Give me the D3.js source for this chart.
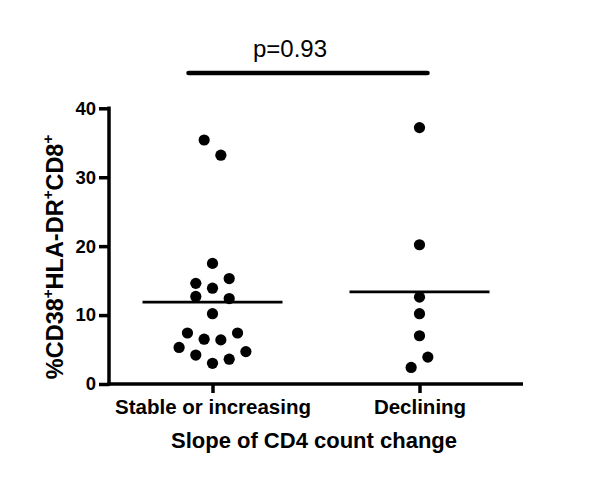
<!DOCTYPE html>
<html>
<head>
<meta charset="utf-8">
<script src="https://cdn.jsdelivr.net/npm/d3@7"></script>
<style>
  body { margin: 0; background: #fff; }
  svg { display: block; font-family: "Liberation Sans", Arial, sans-serif; }
</style>
</head>
<body>
<svg id="chart" width="600" height="486"></svg>
<script>
// ---- data ----
const categories = ["Stable or increasing", "Declining"];
const stableValues = [35.4, 33.2, 17.5, 15.3, 14.6, 13.9, 12.7, 12.4, 10.2, 7.4, 7.4, 6.5, 6.4, 5.3, 4.7, 4.2, 3.6, 3.0];
const stableLanes  = [-1, 1, 0, 2, -2, 0, -2, 2, 0, -3, 3, -1, 1, -4, 4, -2, 2, 0];
const decliningValues = [37.2, 20.2, 12.6, 10.2, 7.0, 3.9, 2.4];
const decliningLanes  = [0, 0, 0, 0, 0, 1, -1];
const yTicks = [0, 10, 20, 30, 40];
const pLabel = "p=0.93";

const groups = [
  { cat: categories[0], values: stableValues, lanes: stableLanes },
  { cat: categories[1], values: decliningValues, lanes: decliningLanes }
];

// ---- layout ----
const svg = d3.select("#chart");
const x = d3.scalePoint().domain(categories).range([109, 523]).padding(0.5);
const y = d3.scaleLinear().domain([0, 40]).range([384, 108.3]);
const lane = d3.scaleLinear().domain([-1, 1]).range([-8.35, 8.35]);

// y axis
const yAxis = svg.append("g").attr("transform", "translate(109,0)")
  .call(d3.axisLeft(y).tickValues(yTicks).tickSize(10).tickSizeOuter(0).tickPadding(3));
yAxis.select(".domain").remove();
yAxis.selectAll(".tick line").attr("stroke", "#000").attr("stroke-width", 3.5);
yAxis.selectAll(".tick text").attr("fill", "#000").attr("font-size", 18.5).attr("font-weight", "bold")
  .attr("font-family", "Liberation Sans, Arial, sans-serif");
svg.append("line").attr("x1", 109).attr("x2", 109).attr("y1", y(40) - 1.75).attr("y2", y(0) + 1.75)
  .attr("stroke", "#000").attr("stroke-width", 3.5);

// x axis
const xAxis = svg.append("g").attr("transform", "translate(0,384)")
  .call(d3.axisBottom(x).tickSize(9).tickSizeOuter(0).tickPadding(6));
xAxis.select(".domain").remove();
xAxis.selectAll(".tick line").attr("stroke", "#000").attr("stroke-width", 3.5);
xAxis.selectAll(".tick text").attr("fill", "#000").attr("font-size", 20.5).attr("font-weight", "bold")
  .attr("font-family", "Liberation Sans, Arial, sans-serif");
svg.append("line").attr("x1", 107.25).attr("x2", 523).attr("y1", 384).attr("y2", 384)
  .attr("stroke", "#000").attr("stroke-width", 3.5);

// x title
svg.append("text").attr("x", 314).attr("y", 448).attr("text-anchor", "middle")
  .attr("font-size", 22).attr("font-weight", "bold").text("Slope of CD4 count change");

// y title with superscripts
const yt = svg.append("text").attr("transform", "translate(63,257) rotate(-90)")
  .attr("text-anchor", "middle").attr("font-size", 23.5).attr("font-weight", "bold");
const parts = [["%CD38", false], ["+", true], ["HLA-DR", false], ["+", true], ["CD8", false], ["+", true]];
let raised = false;
parts.forEach(([t, sup]) => {
  const dy = sup ? (raised ? 0 : -10) : (raised ? 10 : 0);
  raised = sup;
  yt.append("tspan").attr("font-size", sup ? 15 : 23.5).attr("dy", dy).text(t);
});

// points
groups.forEach(g => {
  svg.append("g").selectAll("circle").data(g.values).join("circle")
    .attr("cx", (d, i) => x(g.cat) + lane(g.lanes[i]))
    .attr("cy", d => y(d))
    .attr("r", 5.6)
    .attr("fill", "#000");
  const m = d3.mean(g.values);
  svg.append("line")
    .attr("x1", x(g.cat) - 70).attr("x2", x(g.cat) + 70)
    .attr("y1", y(m)).attr("y2", y(m))
    .attr("stroke", "#000").attr("stroke-width", 2.8);
});

// significance bar
svg.append("line").attr("x1", x(categories[0]) - 24).attr("x2", x(categories[1]) + 8)
  .attr("y1", 73).attr("y2", 73).attr("stroke", "#000").attr("stroke-width", 4.5).attr("stroke-linecap", "round");
svg.append("text").attr("x", 290).attr("y", 57).attr("text-anchor", "middle")
  .attr("font-size", 24).text(pLabel);
</script>
</body>
</html>
